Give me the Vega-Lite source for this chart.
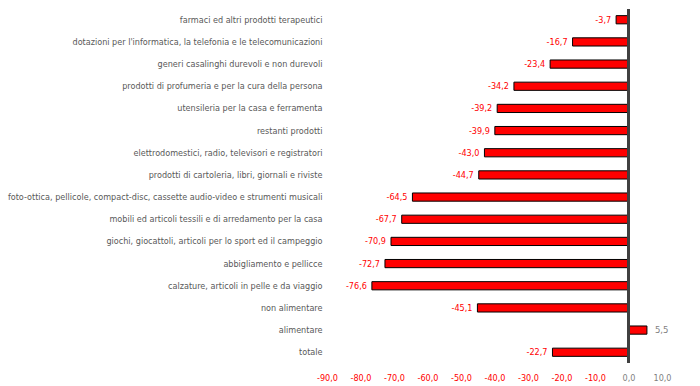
{
  "$schema": "https://vega.github.io/schema/vega-lite/v6.json",
  "autosize": "none",
  "width": 335,
  "height": 354,
  "padding": {"left": 327, "top": 9, "right": 38, "bottom": 23},
  "background": "white",
  "config": {
    "view": {"stroke": null},
    "locale": {"number": {"decimal": ",", "thousands": ".", "grouping": [3], "currency": ["€", ""], "minus": "-"}},
    "font": "DejaVu Sans Condensed",
    "axisX": {"labelOverlap": false, "labelFlush": false, "labelBound": false}
  },
  "data": {
    "values": [
      {"cat": "farmaci ed altri prodotti terapeutici", "v": -3.7},
      {"cat": "dotazioni per l'informatica, la telefonia e le telecomunicazioni", "v": -16.7},
      {"cat": "generi casalinghi durevoli e non durevoli", "v": -23.4},
      {"cat": "prodotti di profumeria e per la cura della persona", "v": -34.2},
      {"cat": "utensileria per la casa e ferramenta", "v": -39.2},
      {"cat": "restanti prodotti", "v": -39.9},
      {"cat": "elettrodomestici, radio, televisori e registratori", "v": -43.0},
      {"cat": "prodotti di cartoleria, libri, giornali e riviste", "v": -44.7},
      {"cat": "foto-ottica, pellicole, compact-disc, cassette audio-video e strumenti musicali", "v": -64.5},
      {"cat": "mobili ed articoli tessili e di arredamento per la casa", "v": -67.7},
      {"cat": "giochi, giocattoli, articoli per lo sport ed il campeggio", "v": -70.9},
      {"cat": "abbigliamento e pellicce", "v": -72.7},
      {"cat": "calzature, articoli in pelle e da viaggio", "v": -76.6},
      {"cat": "non alimentare", "v": -45.1},
      {"cat": "alimentare", "v": 5.5},
      {"cat": "totale", "v": -22.7}
    ]
  },
  "encoding": {
    "y": {
      "field": "cat", "type": "nominal", "sort": null,
      "scale": {"paddingInner": 0.63, "paddingOuter": 0.3},
      "axis": {"title": null, "ticks": false, "domain": false, "labelFontSize": 9, "labelColor": "#595959", "labelPadding": 5, "labelLimit": 400}
    },
    "x": {
      "field": "v", "type": "quantitative",
      "scale": {"domain": [-90, 10], "nice": false},
      "axis": {"title": null, "values": [-90, -80, -70, -60, -50, -40, -30, -20, -10, 0, 10], "format": ".1f", "grid": false, "ticks": false, "domain": false, "labelColor": {"condition": {"test": "datum.value < 0", "value": "#FF0000"}, "value": "#7F7F7F"}, "labelFontSize": 9, "labelPadding": 10, "labelFlush": false, "labelOverlap": false, "labelBound": false}
    }
  },
  "layer": [
    {
      "mark": {"type": "bar", "color": "#FF0000", "stroke": "#000000", "strokeWidth": 1}
    },
    {
      "transform": [{"filter": "datum.v < 0"}],
      "mark": {"type": "text", "align": "right", "baseline": "middle", "dx": -5, "fontSize": 9, "color": "#FF0000"},
      "encoding": {
        "text": {"field": "v", "type": "quantitative", "format": ".1f"}
      }
    },
    {
      "transform": [{"filter": "datum.v >= 0"}],
      "mark": {"type": "text", "align": "left", "baseline": "middle", "dx": 8, "fontSize": 9.5, "color": "#7F7F7F"},
      "encoding": {
        "text": {"field": "v", "type": "quantitative", "format": ".1f"}
      }
    },
    {
      "mark": {"type": "rule", "color": "#404040", "strokeWidth": 1.5},
      "encoding": {"x": {"datum": 0}, "y": null}
    }
  ]
}
